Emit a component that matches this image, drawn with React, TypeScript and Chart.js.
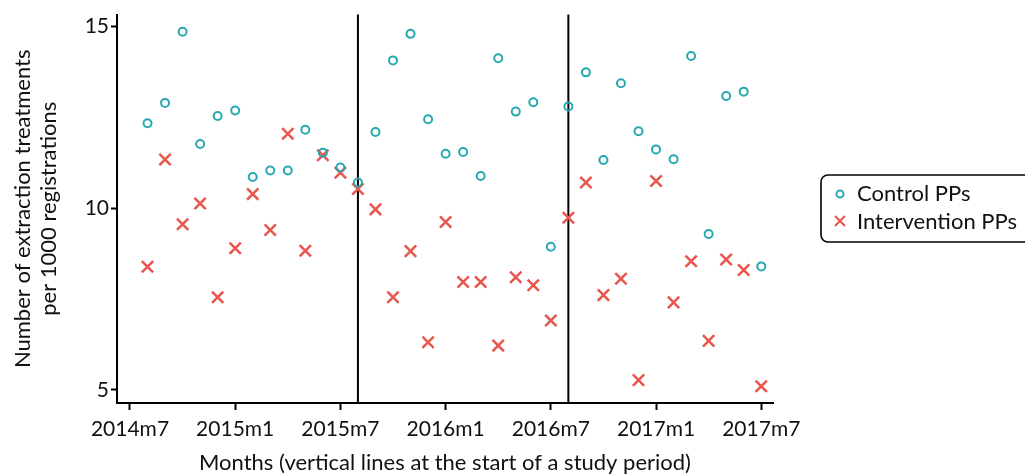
import React, { useEffect, useRef } from "react";
import { Chart, registerables } from "chart.js";

Chart.register(...registerables);

// ---- Data ----
const months = [
  "2014m8", "2014m9", "2014m10", "2014m11", "2014m12",
  "2015m1", "2015m2", "2015m3", "2015m4", "2015m5", "2015m6",
  "2015m7", "2015m8", "2015m9", "2015m10", "2015m11", "2015m12",
  "2016m1", "2016m2", "2016m3", "2016m4", "2016m5", "2016m6",
  "2016m7", "2016m8", "2016m9", "2016m10", "2016m11", "2016m12",
  "2017m1", "2017m2", "2017m3", "2017m4", "2017m5", "2017m6", "2017m7",
];

const controlPPs = [
  12.34, 12.9, 14.86, 11.77, 12.54, 12.69, 10.86, 11.04, 11.04, 12.16, 11.53, 11.12,
  10.71, 12.1, 14.07, 14.8, 12.45, 11.5, 11.55, 10.89, 14.13, 12.66, 12.92, 8.94,
  12.8, 13.74, 11.33, 13.44, 12.12, 11.62, 11.35, 14.19, 9.29, 13.09, 13.21, 8.4,
];

const interventionPPs = [
  8.39, 11.34, 9.56, 10.13, 7.55, 8.9, 10.39, 9.4, 12.05, 8.83, 11.46, 10.98,
  10.53, 9.97, 7.55, 8.82, 6.31, 9.62, 7.97, 7.97, 6.22, 8.1, 7.88, 6.91,
  9.74, 10.71, 7.61, 8.06, 5.27, 10.75, 7.41, 8.54, 6.35, 8.59, 8.3, 5.1,
];

const xTickLabels = ["2014m7", "2015m1", "2015m7", "2016m1", "2016m7", "2017m1", "2017m7"];
const yTickValues = [5, 10, 15];
const studyPeriodStarts = ["2015m8", "2016m8"];

const seriesNames = ["Control PPs", "Intervention PPs"];
const yTitle = ["Number of extraction treatments", "per 1000 registrations"];
const xTitle = "Months (vertical lines at the start of a study period)";

// ---- Helpers ----
const monthIndex = (s: string) => {
  const [y, m] = s.split("m").map(Number);
  return (y - 2014) * 12 + (m - 7);
};

const TEAL = "#28a8b0";
const RED = "#e8564d";
const FONT = "Lato";

export default function App() {
  const ref = useRef<HTMLCanvasElement | null>(null);

  useEffect(() => {
    if (!ref.current) return;

    const studyLines = {
      id: "studyLines",
      beforeDatasetsDraw(chart: any) {
        const { ctx, chartArea, scales } = chart;
        ctx.save();
        ctx.strokeStyle = "#000";
        ctx.lineWidth = 2;
        studyPeriodStarts.forEach((s) => {
          const x = scales.x.getPixelForValue(monthIndex(s));
          ctx.beginPath();
          ctx.moveTo(x, chartArea.top);
          ctx.lineTo(x, chartArea.bottom);
          ctx.stroke();
        });
        ctx.restore();
      },
    };

    const customLegend = {
      id: "customLegend",
      afterDraw(chart: any) {
        const ctx = chart.ctx;
        ctx.save();
        const left = 821, top = 175, w = 230, h = 67, r = 7;
        ctx.beginPath();
        ctx.moveTo(left + r, top);
        ctx.lineTo(left + w - r, top);
        ctx.arcTo(left + w, top, left + w, top + r, r);
        ctx.lineTo(left + w, top + h - r);
        ctx.arcTo(left + w, top + h, left + w - r, top + h, r);
        ctx.lineTo(left + r, top + h);
        ctx.arcTo(left, top + h, left, top + h - r, r);
        ctx.lineTo(left, top + r);
        ctx.arcTo(left, top, left + r, top, r);
        ctx.closePath();
        ctx.fillStyle = "#fff";
        ctx.fill();
        ctx.strokeStyle = "#000";
        ctx.lineWidth = 1.6;
        ctx.stroke();

        // markers
        ctx.lineWidth = 2;
        ctx.strokeStyle = TEAL;
        ctx.beginPath();
        ctx.arc(840, 194, 3.5, 0, Math.PI * 2);
        ctx.stroke();

        ctx.strokeStyle = RED;
        ctx.lineWidth = 2;
        const cx = 840, cy = 221, d = 5;
        ctx.beginPath();
        ctx.moveTo(cx - d, cy - d);
        ctx.lineTo(cx + d, cy + d);
        ctx.moveTo(cx + d, cy - d);
        ctx.lineTo(cx - d, cy + d);
        ctx.stroke();

        ctx.fillStyle = "#111";
        ctx.font = `22px ${FONT}`;
        ctx.textBaseline = "alphabetic";
        ctx.textAlign = "left";
        ctx.fillText(seriesNames[0], 857, 201);
        ctx.fillText(seriesNames[1], 857, 229);
        ctx.restore();
      },
    };

    const tickFont = { family: FONT, size: 21 };

    const chart = new Chart(ref.current, {
      type: "scatter",
      data: {
        datasets: [
          {
            label: seriesNames[0],
            data: months.map((m, i) => ({ x: monthIndex(m), y: controlPPs[i] })),
            pointStyle: "circle",
            pointRadius: 4,
            pointBorderWidth: 2,
            borderColor: TEAL,
            backgroundColor: "rgba(0,0,0,0)",
          },
          {
            label: seriesNames[1],
            data: months.map((m, i) => ({ x: monthIndex(m), y: interventionPPs[i] })),
            pointStyle: "crossRot",
            pointRadius: 8,
            pointBorderWidth: 2.5,
            borderColor: RED,
            backgroundColor: RED,
          },
        ],
      },
      options: {
        responsive: false,
        animation: false,
        events: [],
        layout: { padding: { top: 14, right: 252, left: 0, bottom: 0 } },
        plugins: {
          legend: { display: false },
          tooltip: { enabled: false },
        },
        scales: {
          x: {
            type: "linear",
            min: -0.74,
            max: 36.67,
            afterFit(scale: any) {
              scale.height = 71;
            },
            afterBuildTicks(scale: any) {
              scale.ticks = xTickLabels.map((l) => ({ value: monthIndex(l) }));
            },
            ticks: {
              font: tickFont,
              color: "#111",
              padding: 7,
              maxRotation: 0,
              autoSkip: false,
              callback: (v: any) => {
                const lbl = xTickLabels.find((l) => monthIndex(l) === v);
                return lbl ?? "";
              },
            },
            grid: {
              drawOnChartArea: false,
              drawTicks: true,
              tickLength: 7,
              tickWidth: 2,
              tickColor: "#000",
            },
            border: { color: "#000", width: 2 },
            title: {
              display: true,
              text: xTitle,
              font: { family: FONT, size: 22, lineHeight: 1.0 },
              color: "#111",
              padding: { top: 0, bottom: 0 },
            },
          },
          y: {
            type: "linear",
            min: 4.64,
            max: 15.33,
            afterFit(scale: any) {
              scale.width = 117;
            },
            afterBuildTicks(scale: any) {
              scale.ticks = yTickValues.map((v) => ({ value: v }));
            },
            ticks: {
              font: tickFont,
              color: "#111",
              padding: 2,
              callback: (v: any) => String(v),
            },
            grid: {
              drawOnChartArea: false,
              drawTicks: true,
              tickLength: 6,
              tickWidth: 2,
              tickColor: "#000",
            },
            border: { color: "#000", width: 2 },
            title: {
              display: true,
              text: yTitle,
              font: { family: FONT, size: 22, lineHeight: 1.17 },
              color: "#111",
              padding: { top: 10, bottom: 0 },
            },
          },
        },
      },
      plugins: [studyLines, customLegend],
    } as any);

    return () => chart.destroy();
  }, []);

  return (
    <div style={{ position: "fixed", left: 0, top: 0, width: 1025, height: 474, background: "#fff" }}>
      <canvas ref={ref} width={1025} height={474} style={{ width: 1025, height: 474, display: "block" }} />
    </div>
  );
}
